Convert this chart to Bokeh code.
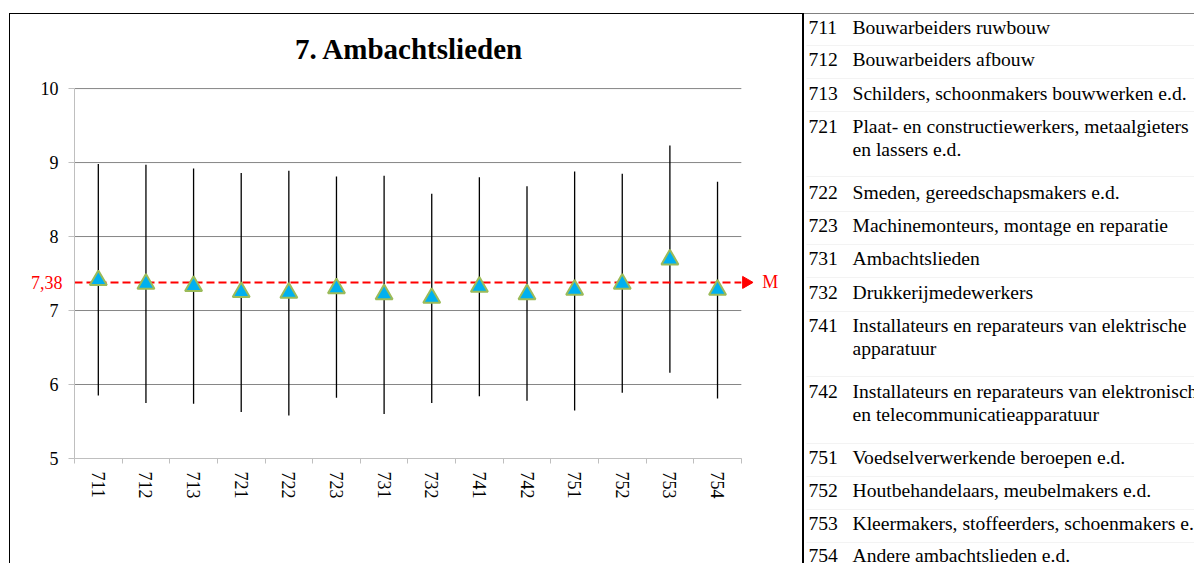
import numpy as np
from bokeh.plotting import figure
from bokeh.models import (Range1d, FixedTicker, ColumnDataSource, LinearAxis, Spacer)
from bokeh.layouts import row, column
from bokeh.core.properties import value
from bokeh.embed import file_html
from bokeh.resources import INLINE

# ---------------- data ----------------
codes = ["711", "712", "713", "721", "722", "723", "731", "732",
         "741", "742", "751", "752", "753", "754"]
means = [7.41, 7.36, 7.33, 7.25, 7.24, 7.30, 7.22, 7.17, 7.32, 7.22, 7.28, 7.36, 7.69, 7.28]
upper = [8.98, 8.97, 8.92, 8.86, 8.89, 8.81, 8.82, 8.58, 8.80, 8.68, 8.88, 8.85, 9.23, 8.74]
lower = [5.85, 5.75, 5.74, 5.63, 5.58, 5.82, 5.60, 5.75, 5.84, 5.78, 5.65, 5.89, 6.16, 5.81]
overall_mean = 7.38
mean_label = "7,38"
mean_marker = "M"
title_text = "7. Ambachtslieden"
y_ticks = [5, 6, 7, 8, 9, 10]

legend_codes = ["711", "712", "713", "721", "722", "723", "731", "732",
                "741", "742", "751", "752", "753", "754"]
legend_lines = [
    ["Bouwarbeiders ruwbouw"],
    ["Bouwarbeiders afbouw"],
    ["Schilders, schoonmakers bouwwerken e.d."],
    ["Plaat- en constructiewerkers, metaalgieters", "en lassers e.d."],
    ["Smeden, gereedschapsmakers e.d."],
    ["Machinemonteurs, montage en reparatie"],
    ["Ambachtslieden"],
    ["Drukkerijmedewerkers"],
    ["Installateurs en reparateurs van elektrische", "apparatuur"],
    ["Installateurs en reparateurs van elektronische", "en telecommunicatieapparatuur"],
    ["Voedselverwerkende beroepen e.d."],
    ["Houtbehandelaars, meubelmakers e.d."],
    ["Kleermakers, stoffeerders, schoenmakers e.d."],
    ["Andere ambachtslieden e.d."],
]

# ---------------- layout geometry (pixels) ----------------
FONT = "Liberation Serif"
TOP = 13                 # top border line row
LEFT = 9                 # left border line column
CH_W, H = 792, 549       # chart figure size
TB_W = 390               # table figure width
N = len(codes)
X_EXTRA = 1.2            # room right of the categories for the arrow and "M"
Y_MIN, Y_MAX = 5, 10
PX_PER_UNIT = 74
Y_EXTRA = 0.92           # room above the value range for the title
FL, FB = 64, 444                          # chart frame edges, chart-local px
FT = FB - int(round((Y_MAX - Y_MIN + Y_EXTRA) * PX_PER_UNIT))
FR = FL + int(round((N + X_EXTRA) * 667 / N))
title_y = Y_MAX + 0.54
row_baseline = [13, 45, 79, 112, 178, 211, 244, 278, 311, 377, 443, 476, 509, 541]
line_gap = 23
sep_y = [31, 64, 97, 162, 197, 230, 263, 297, 362, 429, 462, 495, 528]
code_x, desc_x = 4, 48

xpos = np.arange(N) + 0.5

# ---------------- chart ----------------
p = figure(width=CH_W, height=H, output_backend="svg", toolbar_location=None,
           x_range=Range1d(0, N + X_EXTRA), y_range=Range1d(Y_MIN, Y_MAX + Y_EXTRA),
           min_border_left=FL, min_border_top=FT,
           min_border_right=CH_W - FR, min_border_bottom=H - FB)
p.outline_line_color = None
p.background_fill_color = "white"
p.border_fill_color = "white"

p.grid.visible = False
# horizontal grid lines, limited to the category span
p.segment(x0=[0] * len(y_ticks), y0=y_ticks, x1=[N] * len(y_ticks), y1=y_ticks,
          line_color="#868686", line_width=1)

p.yaxis.ticker = FixedTicker(ticks=y_ticks)
p.yaxis.bounds = (Y_MIN, Y_MAX)
p.yaxis.axis_line_color = "#BFBFBF"
p.yaxis.major_tick_line_color = "#BFBFBF"
p.yaxis.major_tick_in = 0
p.yaxis.major_tick_out = 6
p.yaxis.minor_tick_line_color = None
p.yaxis.major_label_text_font = FONT
p.yaxis.major_label_text_font_size = "18px"
p.yaxis.major_label_text_color = "black"
p.yaxis.major_label_standoff = 10

p.xaxis.ticker = FixedTicker(ticks=list(xpos), minor_ticks=list(range(N + 1)))
p.xaxis.bounds = (0, N)
p.xaxis.major_label_overrides = {float(x): c for x, c in zip(xpos, codes)}
p.xaxis.major_label_orientation = "vertical"
p.xaxis.axis_line_color = "#BFBFBF"
p.xaxis.major_tick_line_color = None
p.xaxis.major_tick_in = 0
p.xaxis.major_tick_out = 5
p.xaxis.minor_tick_line_color = "#BFBFBF"
p.xaxis.minor_tick_in = 0
p.xaxis.minor_tick_out = 5
p.xaxis.major_label_text_font = FONT
p.xaxis.major_label_text_font_size = "18px"
p.xaxis.major_label_text_color = "black"
p.xaxis.major_label_standoff = 8

# red "7,38" label beside the value axis (second, outer left axis pulled inwards)
ax_mean = LinearAxis(ticker=FixedTicker(ticks=[overall_mean]),
                     major_label_overrides={overall_mean: mean_label},
                     axis_line_color=None, major_tick_line_color=None,
                     minor_tick_line_color=None, major_tick_out=0, major_tick_in=0,
                     major_label_text_color="#FF0000", major_label_text_font=FONT,
                     major_label_text_font_size="18px", major_label_standoff=-25)
p.add_layout(ax_mean, "left")

# title
p.text(x=[N / 2 + 0.03], y=[title_y], text=[title_text], text_font=value(FONT),
       text_font_size="29px", text_font_style="bold", text_color="black",
       text_align="center", text_baseline="middle")

src = ColumnDataSource(dict(x=xpos, mean=means, lo=lower, hi=upper))
p.segment(x0="x", y0="lo", x1="x", y1="hi", source=src, line_color="black", line_width=1.3)

# mean line with arrow head and "M"
p.segment(x0=[0], y0=[overall_mean], x1=[N], y1=[overall_mean],
          line_color="#FF0000", line_width=2, line_dash="8 4")
p.scatter(x=[N + 0.1], y=[overall_mean], marker="triangle", angle=-np.pi / 2,
          size=12, fill_color="#FF0000", line_color="#FF0000", line_width=1)
p.text(x=[N + 0.44], y=[overall_mean], text=[mean_marker], text_font=value(FONT),
       text_font_size="18px", text_color="#FF0000", text_align="left",
       text_baseline="middle")

p.scatter(x="x", y="mean", source=src, marker="triangle", size=17,
          fill_color="#00B0F0", line_color="#9BBB59", line_width=2)

# ---------------- table ----------------
t = figure(width=TB_W, height=H, output_backend="svg", toolbar_location=None,
           x_range=Range1d(0, TB_W), y_range=Range1d(H, 0),
           min_border=0, min_border_left=0, min_border_right=0,
           min_border_top=0, min_border_bottom=0)
t.axis.visible = False
t.grid.visible = False
t.outline_line_color = None
t.background_fill_color = "white"
t.border_fill_color = "white"

t.segment(x0=[2] * len(sep_y), y0=sep_y, x1=[TB_W] * len(sep_y), y1=sep_y,
          line_color="#F3F3F3", line_width=1)

cx, cy, ct, dx, dy, dt = [], [], [], [], [], []
for code, lines, base in zip(legend_codes, legend_lines, row_baseline):
    cx.append(code_x); cy.append(base); ct.append(code)
    for i, ln in enumerate(lines):
        dx.append(desc_x); dy.append(base + i * line_gap); dt.append(ln)
t.text(x=cx, y=cy, text=ct, text_font=value(FONT), text_font_size="19.6px",
       text_color="black", text_align="left", text_baseline="alphabetic")
t.text(x=dx, y=dy, text=dt, text_font=value(FONT), text_font_size="19.6px",
       text_color="black", text_align="left", text_baseline="alphabetic")

# ---------------- border lines and page layout ----------------
def bar(w, h, color):
    return Spacer(width=w, height=h, margin=0, styles={"background-color": color})

layout = column(
    Spacer(width=10, height=TOP, margin=0),
    row(
        Spacer(width=LEFT, height=H + 1, margin=0),
        bar(1, H + 1, "black"),
        column(bar(CH_W, 1, "black"), p, spacing=0),
        bar(2, H + 1, "black"),
        column(bar(TB_W, 1, "#808080"), t, spacing=0),
        spacing=0,
    ),
    spacing=0,
)

open("out.html", "w").write(file_html(layout, INLINE))
